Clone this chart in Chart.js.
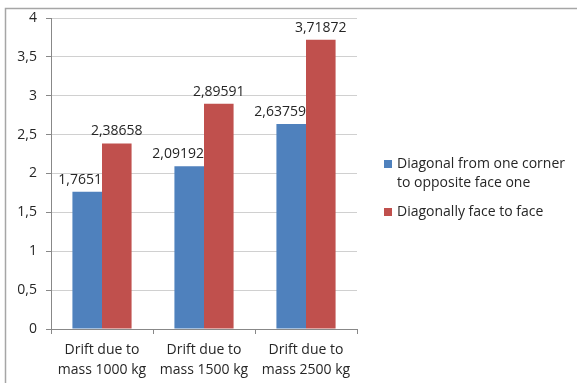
<!DOCTYPE html>
<html>
<head>
<meta charset="utf-8">
<script src="https://cdn.jsdelivr.net/npm/chart.js@4"></script>
<style>
  html, body { margin: 0; padding: 0; background: #ffffff; }
  #wrap { width: 577px; height: 383px; position: relative; }
</style>
</head>
<body>
<div id="wrap"><canvas id="chart" width="577" height="383"></canvas></div>
<script>
// Drift results, two loading directions per mass case
const categories = [
  ['Drift due to', 'mass 1000 kg'],
  ['Drift due to', 'mass 1500 kg'],
  ['Drift due to', 'mass 2500 kg']
];
const seriesNames = ['Diagonal from one corner to opposite face one', 'Diagonally face to face'];
const legendLines = [
  ['Diagonal from one corner', 'to opposite face one'],
  ['Diagonally face to face']
];
const cornerToFace = [1.7651, 2.09192, 2.63759];
const faceToFace = [2.38658, 2.89591, 3.71872];
const yTicks = [0, 0.5, 1, 1.5, 2, 2.5, 3, 3.5, 4];

const FONT = '"Open Sans", "Liberation Sans", sans-serif';
const TEXT = '#262626';
const BLUE = '#4F81BD';
const RED = '#C0504D';

const fmt = v => String(v).replace('.', ',');

// outer frame lines along top and left edges
const framePlugin = {
  id: 'frame',
  beforeDraw(chart) {
    const ctx = chart.ctx;
    ctx.save();
    ctx.strokeStyle = '#A6A6A6';
    ctx.lineWidth = 1.5;
    ctx.beginPath();
    ctx.moveTo(5.5, 383);
    ctx.lineTo(5.5, 8.5);
    ctx.lineTo(577, 8.5);
    ctx.stroke();
    ctx.restore();
  }
};

// value labels above each bar
const valueLabels = {
  id: 'valueLabels',
  afterDatasetsDraw(chart) {
    const ctx = chart.ctx;
    ctx.save();
    ctx.font = '14px ' + FONT;
    ctx.fillStyle = TEXT;
    ctx.textBaseline = 'middle';
    chart.data.datasets.forEach((ds, di) => {
      const meta = chart.getDatasetMeta(di);
      meta.data.forEach((bar, i) => {
        const txt = fmt(ds.data[i]);
        if (di === 0) {
          ctx.textAlign = 'right';
          ctx.fillText(txt, bar.x + bar.width / 2, bar.y - 12);
        } else {
          ctx.textAlign = 'center';
          ctx.fillText(txt, bar.x, bar.y - 12);
        }
      });
    });
    ctx.restore();
  }
};

// legend on the right with wrapped entries
const sideLegend = {
  id: 'sideLegend',
  afterDraw(chart) {
    const ctx = chart.ctx;
    ctx.save();
    ctx.font = '14px ' + FONT;
    ctx.fillStyle = TEXT;
    ctx.textAlign = 'left';
    ctx.textBaseline = 'middle';
    let y = 164;
    chart.data.datasets.forEach((ds, di) => {
      ctx.fillStyle = ds.backgroundColor;
      ctx.fillRect(384, y - 4, 8, 8);
      ctx.fillStyle = TEXT;
      legendLines[di].forEach((line, li) => {
        ctx.fillText(line, 397, y + li * 19);
      });
      y += legendLines[di].length * 19 + 10;
    });
    ctx.restore();
  }
};

new Chart(document.getElementById('chart'), {
  type: 'bar',
  data: {
    labels: categories,
    datasets: [
      { label: seriesNames[0], data: cornerToFace, backgroundColor: BLUE, borderColor: '#5D8DC6', borderWidth: 0 },
      { label: seriesNames[1], data: faceToFace, backgroundColor: RED, borderColor: '#C85C59', borderWidth: 0 }
    ]
  },
  options: {
    responsive: false,
    animation: false,
    devicePixelRatio: 1,
    layout: { padding: { top: 18, right: 220, left: 0, bottom: 0 } },
    datasets: { bar: { categoryPercentage: 0.58, barPercentage: 1 } },
    plugins: {
      legend: { display: false },
      tooltip: { enabled: false }
    },
    scales: {
      x: {
        afterFit(scale) { scale.height = 54; },
        grid: { drawOnChartArea: false, drawTicks: true, tickLength: 5, tickColor: '#888888', offset: true },
        border: { color: '#888888', width: 1 },
        ticks: { color: TEXT, font: { family: FONT, size: 14, lineHeight: 20 / 14 }, padding: 6, maxRotation: 0 }
      },
      y: {
        min: 0,
        max: 4,
        afterFit(scale) { scale.width = 51; },
        afterBuildTicks(scale) { scale.ticks = yTicks.map(v => ({ value: v })); },
        grid: { color: '#D0D0D0', tickColor: '#888888', tickLength: 5 },
        border: { color: '#888888', width: 1 },
        ticks: { color: TEXT, font: { family: FONT, size: 14 }, padding: 9, callback: v => fmt(v) }
      }
    }
  },
  plugins: [framePlugin, valueLabels, sideLegend]
});
</script>
</body>
</html>
